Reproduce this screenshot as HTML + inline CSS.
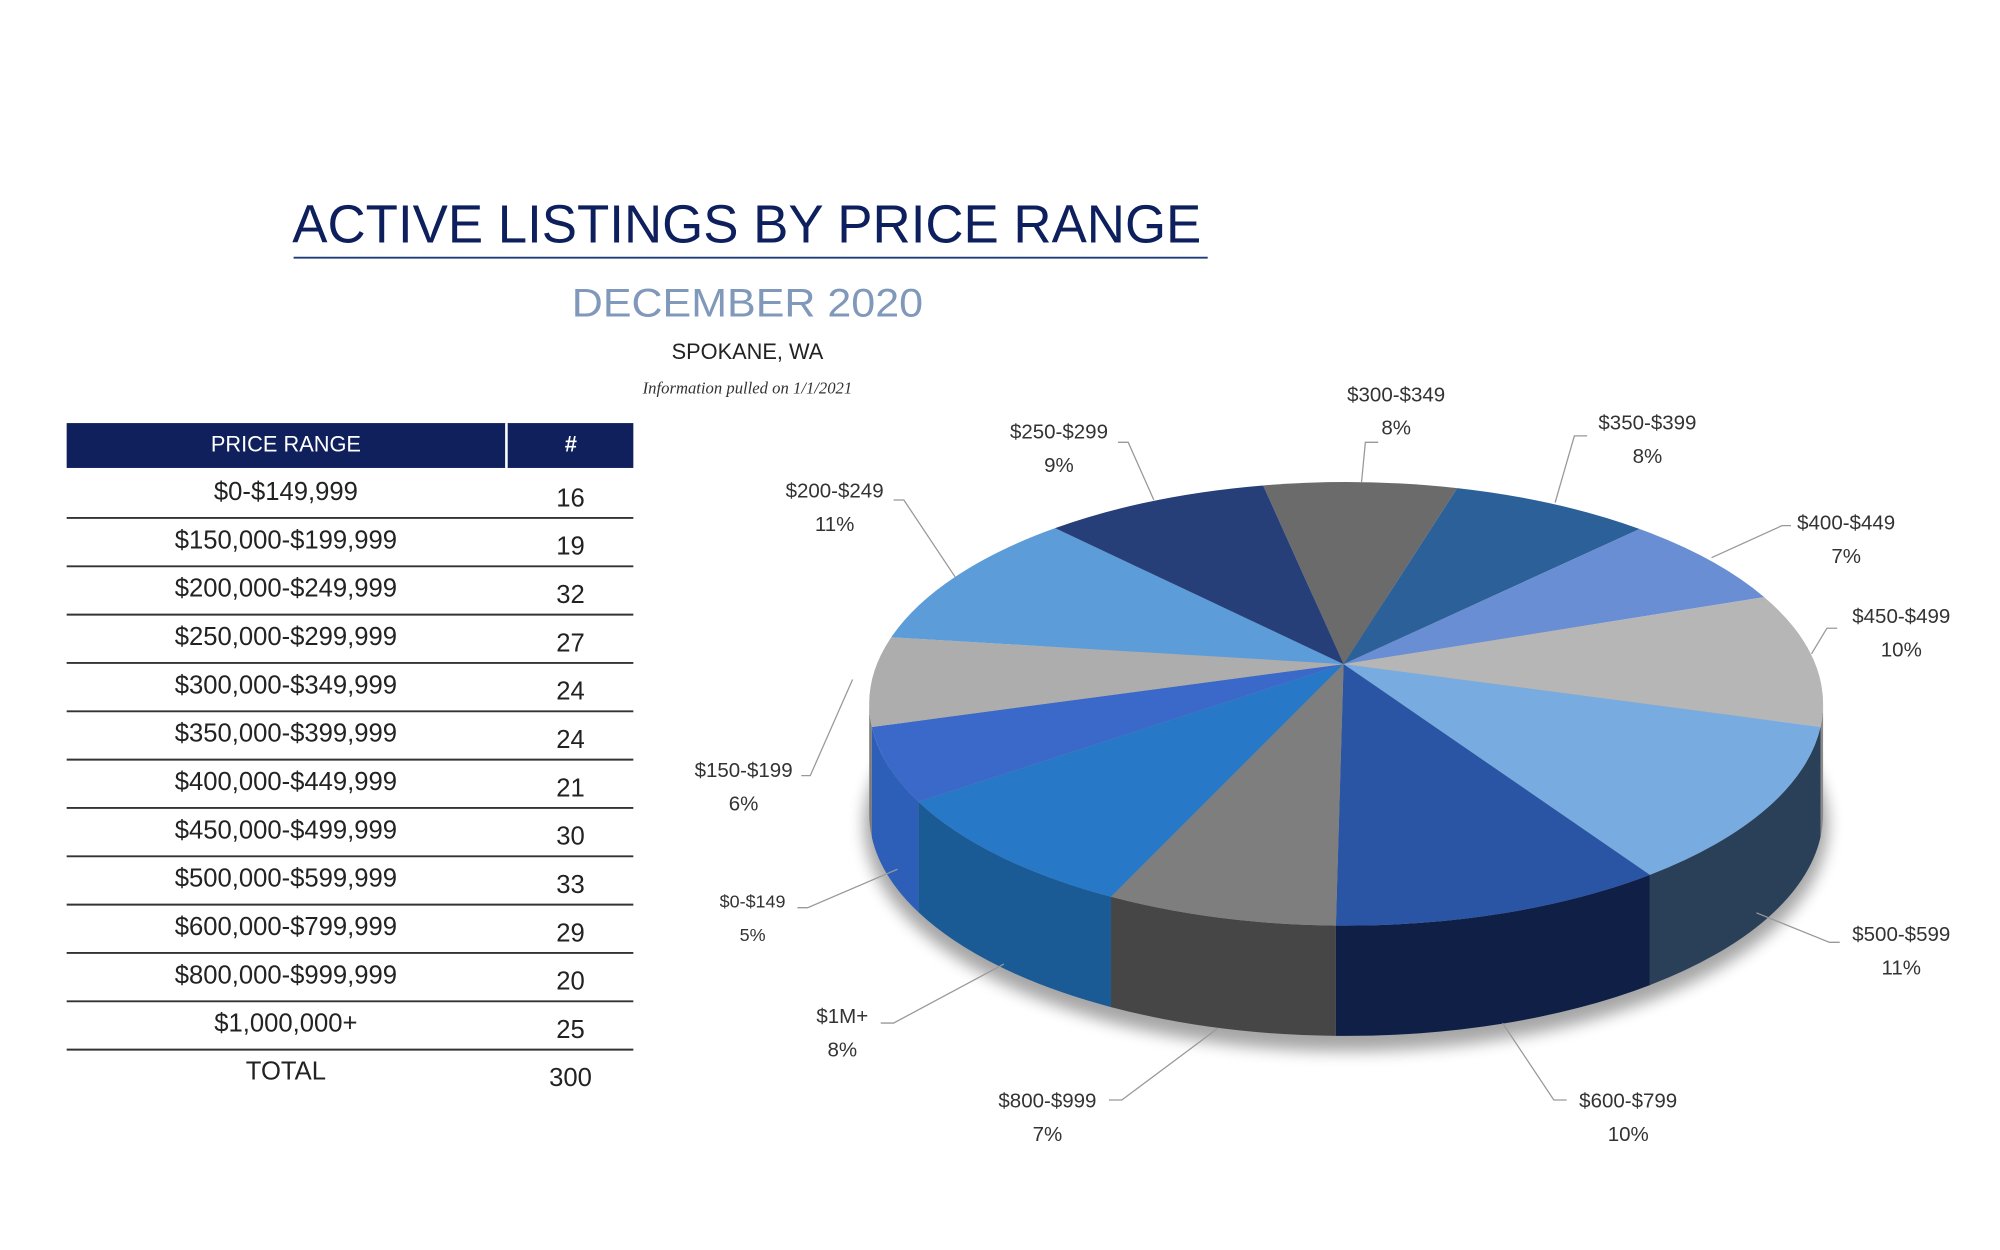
<!DOCTYPE html>
<html><head><meta charset="utf-8">
<style>
html,body{margin:0;padding:0;background:#fff;}
svg{display:block;}
text{font-family:"Liberation Sans",sans-serif;}
</style></head>
<body>
<svg id="s" width="2000" height="1250" viewBox="0 0 1560 975" xmlns="http://www.w3.org/2000/svg">
<defs>
<filter id="blur" x="-20%" y="-20%" width="140%" height="140%"><feGaussianBlur stdDeviation="6"/></filter>
</defs>
<rect width="1560" height="975" fill="#fff"/>
<text x="228" y="189" font-size="42" fill="#0d1f5c" textLength="709" lengthAdjust="spacingAndGlyphs">ACTIVE LISTINGS BY PRICE RANGE</text>
<line x1="229" y1="201" x2="942" y2="201" stroke="#1f3a7a" stroke-width="1.5"/>
<text x="446" y="247" font-size="31" fill="#8098ba" textLength="274" lengthAdjust="spacingAndGlyphs">DECEMBER 2020</text>
<text x="583" y="280" font-size="17" fill="#222" text-anchor="middle">SPOKANE, WA</text>
<text x="583" y="307" font-size="13" fill="#333" text-anchor="middle" font-style="italic" style="font-family:'Liberation Serif',serif">Information pulled on 1/1/2021</text>
<g id="table"></g>
<g id="pie"></g>
<g id="labels" font-size="16" fill="#333" text-anchor="middle"></g>
</svg>
<script>
(function(){
var NS="http://www.w3.org/2000/svg";
function el(p,t,a,txt){var e=document.createElementNS(NS,t);for(var k in a)e.setAttribute(k,a[k]);if(txt!=null)e.textContent=txt;p.appendChild(e);return e;}
var T=document.getElementById('table');
el(T,'rect',{x:52,y:330,width:442,height:35,fill:'#0f205c'});
el(T,'line',{x1:395,y1:330,x2:395,y2:365,stroke:'#fff','stroke-width':2});
el(T,'text',{x:223,y:352,'font-size':17,fill:'#fff','text-anchor':'middle'},'PRICE RANGE');
el(T,'text',{x:445,y:352,'font-size':17,fill:'#fff','text-anchor':'middle','font-weight':'bold','font-style':'italic'},'#');
var rows=[['$0-$149,999',16],['$150,000-$199,999',19],['$200,000-$249,999',32],['$250,000-$299,999',27],['$300,000-$349,999',24],['$350,000-$399,999',24],['$400,000-$449,999',21],['$450,000-$499,999',30],['$500,000-$599,999',33],['$600,000-$799,999',29],['$800,000-$999,999',20],['$1,000,000+',25]];
for(var i=0;i<rows.length;i++){var y0=366+i*37.7;
el(T,'text',{x:223,y:y0+24,'font-size':20,fill:'#222','text-anchor':'middle'},rows[i][0]);
el(T,'text',{x:445,y:y0+29,'font-size':20,fill:'#222','text-anchor':'middle'},rows[i][1]);
el(T,'line',{x1:52,y1:y0+38,x2:494,y2:y0+38,stroke:'#333','stroke-width':1.5});}
el(T,'text',{x:223,y:842,'font-size':20,fill:'#222','text-anchor':'middle'},'TOTAL');
el(T,'text',{x:445,y:847,'font-size':20,fill:'#222','text-anchor':'middle'},'300');
var P=document.getElementById('pie');
var cx=1050,cy=549,rx=372,ry=173,ax=1048,ay=518,D=86;
var B=[[985,378],[1137,380],[1280,412],[1375,466],[1420,567],[1288,683],[1042,722],[866,700],[718,625],[681,567],[695,497],[823,412]];
var ang=B.map(function(p){return Math.atan2((p[1]-cy)/ry,(p[0]-cx)/rx);});
var topC=['#6b6b6b','#2c6098','#6a8ed4','#b6b6b6','#78ace0','#2a55a5','#7e7e7e','#2878c8','#3b69c9','#adadad','#5b9cd9','#263f78'];
var sideC=['#444','#1c4a80','#4a6db0','#8a8a8a','#2a3f58','#0f1f45','#464646','#1a5a95','#2d5eb8','#7a7a7a','#2e6fae','#1a2d5a'];
function pt(t,dy){return [cx+rx*Math.cos(t),cy+ry*Math.sin(t)+(dy||0)];}
el(P,'ellipse',{cx:cx,cy:cy+D+8,rx:rx+4,ry:ry+4,fill:'#000',opacity:0.35,filter:'url(#blur)'});
for(var i=0;i<12;i++){var a1=ang[i],a2=ang[(i+1)%12];while(a2<a1)a2+=2*Math.PI;
  [[0,Math.PI],[2*Math.PI,3*Math.PI]].forEach(function(r){var s=Math.max(a1,r[0]),e=Math.min(a2,r[1]);if(e<=s)return;
    var p1=pt(s),p2=pt(e),q2=pt(e,D),q1=pt(s,D);
    var d='M'+p1+' A'+rx+' '+ry+' 0 0 1 '+p2+' L'+q2+' A'+rx+' '+ry+' 0 0 0 '+q1+' Z';
    el(P,'path',{d:d,fill:sideC[i]});});}
for(var i=0;i<12;i++){var a1=ang[i],a2=ang[(i+1)%12];while(a2<a1)a2+=2*Math.PI;
  var p1=pt(a1),p2=pt(a2);var lg=(a2-a1)>Math.PI?1:0;
  el(P,'path',{d:'M'+ax+','+ay+' L'+p1+' A'+rx+' '+ry+' 0 '+lg+' 1 '+p2+' Z',fill:topC[i]});}
var L=document.getElementById('labels');
var lab=[['$300-$349','8%',1089,313,[[1062,376],[1065,345],[1075,345]]],
['$350-$399','8%',1285,335,[[1213,392],[1228,340],[1238,340]]],
['$400-$449','7%',1440,413,[[1335,435],[1390,410],[1397,410]]],
['$450-$499','10%',1483,486,[[1413,510],[1425,490],[1433,490]]],
['$500-$599','11%',1483,734,[[1370,712],[1427,735],[1435,735]]],
['$600-$799','10%',1270,864,[[1172,798],[1212,858],[1222,858]]],
['$800-$999','7%',817,864,[[950,802],[875,858],[865,858]]],
['$1M+','8%',657,798,[[783,752],[697,798],[687,798]]],
['$0-$149','5%',587,708,[[700,678],[630,708],[622,708]]],
['$150-$199','6%',580,606,[[665,530],[632,605],[625,605]]],
['$200-$249','11%',651,388,[[745,450],[705,390],[697,390]]],
['$250-$299','9%',826,342,[[900,390],[880,345],[872,345]]]];
lab.forEach(function(l){el(L,'polyline',{points:l[4].join(' '),fill:'none',stroke:'#999','stroke-width':1});
 var fs=l[0]=='$0-$149'?14:16;
 el(L,'text',{x:l[2],y:l[3],'font-size':fs},l[0]);
 el(L,'text',{x:l[2],y:l[3]+26,'font-size':fs},l[1]);});
})();
</script>
</body></html>
